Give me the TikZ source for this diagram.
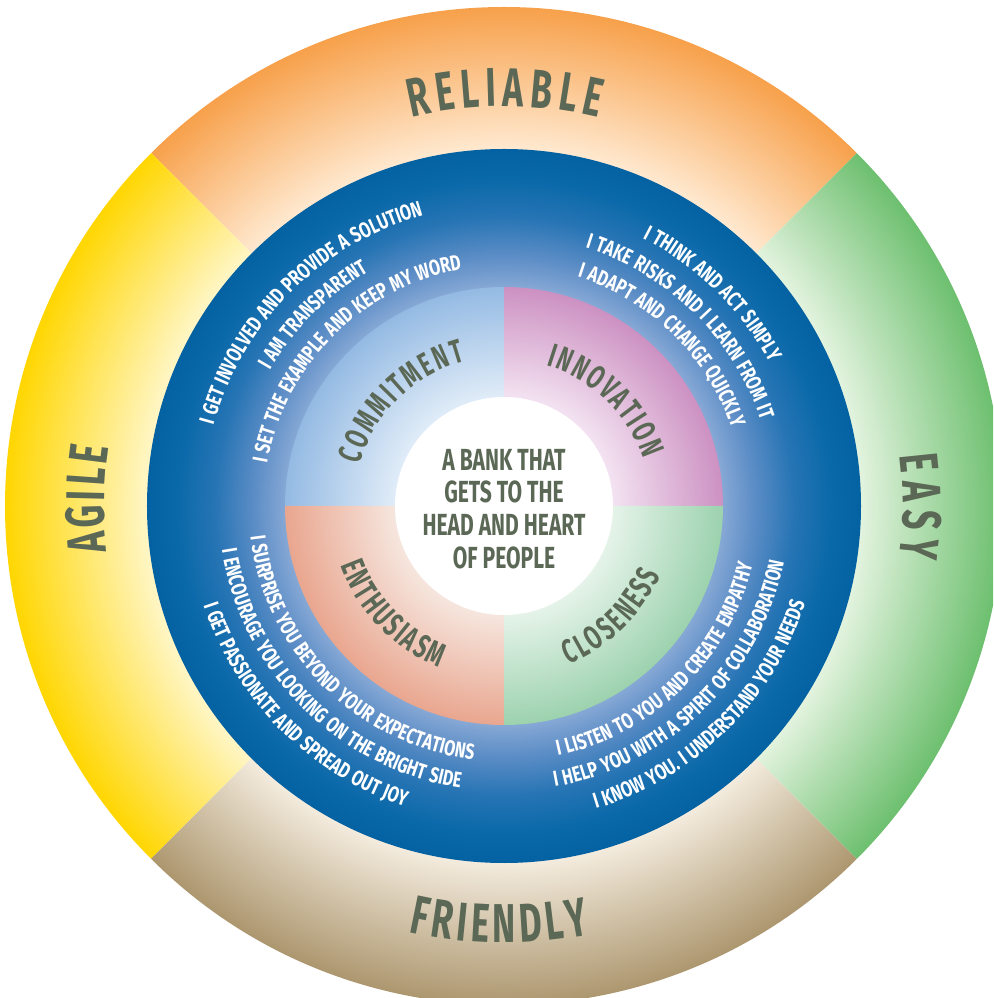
\documentclass[tikz,border=0pt]{standalone}
\usepackage{fontspec}
\usetikzlibrary{decorations.text}

% condensed caps for labels and statements
\newfontfamily\headfont{Fira Sans}[FakeStretch=0.64]
\newfontfamily\midfont{Fira Sans}[FakeStretch=0.69]
\newfontfamily\bodyfont{Fira Sans}[FakeStretch=0.74,WordSpace=1.25]

\definecolor{ink}{RGB}{92,104,86}
% outer values ring
\definecolor{orIn}{RGB}{255,233,208}
\definecolor{orOut}{RGB}{247,160,74}
\definecolor{yeIn}{RGB}{255,246,198}
\definecolor{yeOut}{RGB}{255,214,0}
\definecolor{grIn}{RGB}{226,243,222}
\definecolor{grOut}{RGB}{108,191,110}
\definecolor{tnIn}{RGB}{243,235,221}
\definecolor{tnOut}{RGB}{172,150,110}
% blue statements ring
\definecolor{blA}{RGB}{134,168,213}
\definecolor{blB}{RGB}{92,141,198}
\definecolor{blC}{RGB}{38,116,180}
\definecolor{blD}{RGB}{8,104,168}
\definecolor{blE}{RGB}{4,98,162}
% inner quadrants
\definecolor{cmIn}{RGB}{224,236,248}
\definecolor{cmOut}{RGB}{148,186,227}
\definecolor{inIn}{RGB}{243,226,241}
\definecolor{inOut}{RGB}{204,145,194}
\definecolor{enIn}{RGB}{246,230,222}
\definecolor{enOut}{RGB}{233,166,143}
\definecolor{clIn}{RGB}{229,243,233}
\definecolor{clOut}{RGB}{156,210,174}

% radial shadings drawn on a disc of radius 500 units (25bp = 500 units)
\pgfdeclareradialshading{shOrange}{\pgfpointorigin}{color(0bp)=(orIn); color(17.85bp)=(orIn); color(25bp)=(orOut); color(50bp)=(orOut)}
\pgfdeclareradialshading{shYellow}{\pgfpointorigin}{color(0bp)=(yeIn); color(17.85bp)=(yeIn); color(25bp)=(yeOut); color(50bp)=(yeOut)}
\pgfdeclareradialshading{shGreen}{\pgfpointorigin}{color(0bp)=(grIn); color(17.85bp)=(grIn); color(25bp)=(grOut); color(50bp)=(grOut)}
\pgfdeclareradialshading{shTan}{\pgfpointorigin}{color(0bp)=(tnIn); color(17.85bp)=(tnIn); color(25bp)=(tnOut); color(50bp)=(tnOut)}
\pgfdeclareradialshading{shBlue}{\pgfpointorigin}{color(0bp)=(blA); color(10.95bp)=(blA); color(12.5bp)=(blB); color(14.5bp)=(blC); color(16.5bp)=(blD); color(17.85bp)=(blE); color(50bp)=(blE)}
\pgfdeclareradialshading{shCommit}{\pgfpointorigin}{color(0bp)=(cmIn); color(5.45bp)=(cmIn); color(10.95bp)=(cmOut); color(50bp)=(cmOut)}
\pgfdeclareradialshading{shInnov}{\pgfpointorigin}{color(0bp)=(inIn); color(5.45bp)=(inIn); color(10.95bp)=(inOut); color(50bp)=(inOut)}
\pgfdeclareradialshading{shEnth}{\pgfpointorigin}{color(0bp)=(enIn); color(5.45bp)=(enIn); color(10.95bp)=(enOut); color(50bp)=(enOut)}
\pgfdeclareradialshading{shClose}{\pgfpointorigin}{color(0bp)=(clIn); color(5.45bp)=(clIn); color(10.95bp)=(clOut); color(50bp)=(clOut)}

\newcommand\outerfont{\headfont\bfseries\fontsize{41}{41}\selectfont\color{ink}}
\newcommand\quadfont{\headfont\bfseries\fontsize{25}{25}\selectfont\color{ink}}
\newcommand\stmtfont{\bodyfont\bfseries\fontsize{16.3}{16.3}\selectfont\color{white}}

% text set along an arc around the centre: font, text, start, end, radius, alignment
\newcommand\arctext[6]{%
  \path[decorate,decoration={text along path,text align={#6},text={|#1|#2}}]
    (#3:#5) arc[start angle=#3,end angle=#4,radius=#5];}

% a shaded sector between two angles, clipped to radius #3
\newcommand\shadedsector[4]{%
  \begin{scope}
    \clip (0,0) -- (#1:#3) arc[start angle=#1,end angle=#2,radius=#3] -- cycle;
    \shade[shading=#4] (0,0) circle[radius=500];
  \end{scope}}

\begin{document}
\begin{tikzpicture}[x=0.75pt,y=0.75pt]
  \useasboundingbox (-504,-492) rectangle (489,506);
  \clip (-504,-492) rectangle (489,506);

  % outer ring of brand values
  \shadedsector{45}{135}{499}{shOrange}
  \shadedsector{135}{225}{499}{shYellow}
  \shadedsector{225}{315}{499}{shTan}
  \shadedsector{-45}{45}{499}{shGreen}

  % blue ring of statements
  \begin{scope}
    \clip (0,0) circle[radius=357];
    \shade[shading=shBlue] (0,0) circle[radius=500];
  \end{scope}

  % four inner quadrants
  \shadedsector{90}{180}{219}{shCommit}
  \shadedsector{0}{90}{219}{shInnov}
  \shadedsector{180}{270}{219}{shEnth}
  \shadedsector{270}{360}{219}{shClose}

  % centre disc
  \fill[white] (0,0) circle[radius=109];
  \node[align=center,font=\midfont\bfseries\fontsize{22.9}{24.5}\selectfont,text=ink,inner sep=0pt] (core) at (0,-3)
    {A BANK THAT\\GETS TO THE\\HEAD AND HEART\\OF PEOPLE};

  % outer labels
  \arctext{\outerfont}{RELIABLE}{103.4}{76.3}{399.5}{fit to path}
  \arctext{\outerfont}{EASY}{7.2}{-7.4}{399}{fit to path}
  \arctext{\outerfont}{AGILE}{186.6}{171.5}{400}{fit to path}
  \arctext{\outerfont}{FRIENDLY}{257.4}{281.4}{437}{fit to path}

  % quadrant labels
  \arctext{\quadfont}{COMMITMENT}{164}{105}{150}{fit to path}
  \arctext{\quadfont}{INNOVATION}{73.2}{18.7}{147}{fit to path}
  \arctext{\quadfont}{ENTHUSIASM}{199.9}{248.1}{174}{fit to path}
  \arctext{\quadfont}{CLOSENESS}{-67.8}{-23.8}{171}{fit to path}

  % statements: commitment
  \arctext{\stmtfont}{I GET INVOLVED AND PROVIDE A SOLUTION}{200}{70}{301.5}{center}
  \arctext{\stmtfont}{I AM TRANSPARENT}{200}{70}{270.5}{center}
  \arctext{\stmtfont}{I SET THE EXAMPLE AND KEEP MY WORD}{200}{70}{240.5}{center}
  % statements: innovation
  \arctext{\stmtfont}{I THINK AND ACT SIMPLY}{110.5}{-19.5}{301.5}{center}
  \arctext{\stmtfont}{I TAKE RISKS AND I LEARN FROM IT}{110.5}{-19.5}{270.5}{center}
  \arctext{\stmtfont}{I ADAPT AND CHANGE QUICKLY}{110.5}{-19.5}{240.5}{center}
  % statements: enthusiasm
  \arctext{\stmtfont}{I SURPRISE YOU BEYOND YOUR EXPECTATIONS}{160}{290}{255.5}{center}
  \arctext{\stmtfont}{I ENCOURAGE YOU LOOKING ON THE BRIGHT SIDE}{160}{290}{285.5}{center}
  \arctext{\stmtfont}{I GET PASSIONATE AND SPREAD OUT JOY}{160}{290}{316.5}{center}
  % statements: closeness
  \arctext{\stmtfont}{I LISTEN TO YOU AND CREATE EMPATHY}{-110.5}{19.5}{255.5}{center}
  \arctext{\stmtfont}{I HELP YOU WITH A SPIRIT OF COLLABORATION}{-110.5}{19.5}{285.5}{center}
  \arctext{\stmtfont}{I KNOW YOU. I UNDERSTAND YOUR NEEDS}{-110.5}{19.5}{316.5}{center}
\end{tikzpicture}
\end{document}
